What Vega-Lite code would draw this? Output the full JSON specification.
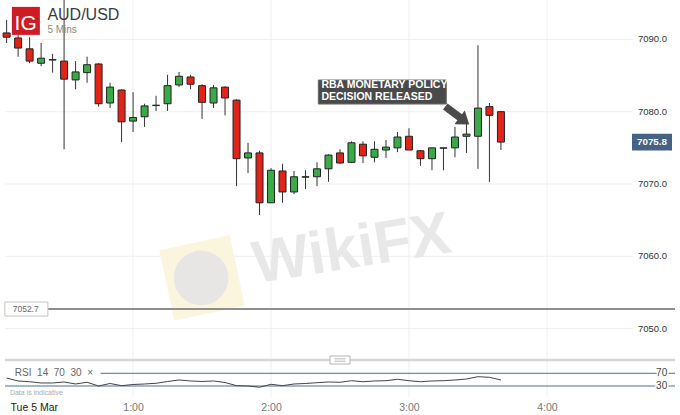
{
  "$schema": "https://vega.github.io/schema/vega-lite/v6.json",
  "width": 680,
  "height": 415,
  "padding": 0,
  "autosize": {"type": "none"},
  "background": "white",
  "config": {
    "view": {"stroke": null},
    "text": {"font": "Liberation Sans"},
    "axis": {"labelFont": "Liberation Sans"}
  },
  "datasets": {
    "candles": [
      {"t": 5, "o": 7090.9, "h": 7092.7, "l": 7089.5, "c": 7090.3},
      {"t": 10, "o": 7090.2, "h": 7091.0, "l": 7087.6, "c": 7088.8},
      {"t": 15, "o": 7088.7, "h": 7090.3, "l": 7086.7, "c": 7087.0},
      {"t": 20, "o": 7086.7, "h": 7089.5, "l": 7086.3, "c": 7087.4},
      {"t": 25, "o": 7087.15, "h": 7088.0, "l": 7085.4, "c": 7087.2},
      {"t": 30, "o": 7087.0, "h": 7096.0, "l": 7074.8, "c": 7084.5},
      {"t": 35, "o": 7084.4, "h": 7087.0, "l": 7083.1, "c": 7085.5},
      {"t": 40, "o": 7085.4, "h": 7087.6, "l": 7084.0, "c": 7086.5},
      {"t": 45, "o": 7086.6, "h": 7086.7, "l": 7080.7, "c": 7081.1},
      {"t": 50, "o": 7081.2, "h": 7084.0, "l": 7080.5, "c": 7083.4},
      {"t": 55, "o": 7083.0, "h": 7083.1, "l": 7075.8, "c": 7078.6},
      {"t": 60, "o": 7078.7, "h": 7082.7, "l": 7077.2, "c": 7079.2},
      {"t": 65, "o": 7079.3, "h": 7081.1, "l": 7077.9, "c": 7080.8},
      {"t": 70, "o": 7080.85, "h": 7082.2, "l": 7080.1, "c": 7080.9},
      {"t": 75, "o": 7081.1, "h": 7085.1, "l": 7080.1, "c": 7083.6},
      {"t": 80, "o": 7083.7, "h": 7085.5, "l": 7083.4, "c": 7084.9},
      {"t": 85, "o": 7084.8, "h": 7085.1, "l": 7083.1, "c": 7083.8},
      {"t": 90, "o": 7083.6, "h": 7083.8, "l": 7079.0, "c": 7081.3},
      {"t": 95, "o": 7081.2, "h": 7083.7, "l": 7080.5, "c": 7083.3},
      {"t": 100, "o": 7083.4, "h": 7083.5, "l": 7079.5, "c": 7081.9},
      {"t": 105, "o": 7081.6, "h": 7081.7, "l": 7069.7, "c": 7073.5},
      {"t": 110, "o": 7073.6, "h": 7075.7, "l": 7071.5, "c": 7074.3},
      {"t": 115, "o": 7074.3, "h": 7074.6, "l": 7065.7, "c": 7067.4},
      {"t": 120, "o": 7067.4, "h": 7072.2, "l": 7067.4, "c": 7071.9},
      {"t": 125, "o": 7071.8, "h": 7072.8, "l": 7067.4, "c": 7068.9},
      {"t": 130, "o": 7068.9, "h": 7071.8, "l": 7068.6, "c": 7071.0},
      {"t": 135, "o": 7070.95, "h": 7071.9, "l": 7069.3, "c": 7071.0},
      {"t": 140, "o": 7071.0, "h": 7073.0, "l": 7069.7, "c": 7072.1},
      {"t": 145, "o": 7072.1, "h": 7074.1, "l": 7070.3, "c": 7074.0},
      {"t": 150, "o": 7074.3, "h": 7074.8, "l": 7072.8, "c": 7072.9},
      {"t": 155, "o": 7073.0, "h": 7075.9, "l": 7072.9, "c": 7075.7},
      {"t": 160, "o": 7075.5, "h": 7075.9, "l": 7072.9, "c": 7073.9},
      {"t": 165, "o": 7073.7, "h": 7075.9, "l": 7073.0, "c": 7074.8},
      {"t": 170, "o": 7074.7, "h": 7076.1, "l": 7073.6, "c": 7075.1},
      {"t": 175, "o": 7075.0, "h": 7077.2, "l": 7074.4, "c": 7076.5},
      {"t": 180, "o": 7076.6, "h": 7077.7, "l": 7074.7, "c": 7074.7},
      {"t": 185, "o": 7074.6, "h": 7074.7, "l": 7072.5, "c": 7073.5},
      {"t": 190, "o": 7073.5, "h": 7075.0, "l": 7071.9, "c": 7075.0},
      {"t": 195, "o": 7074.95, "h": 7075.0, "l": 7071.9, "c": 7075.0},
      {"t": 200, "o": 7075.0, "h": 7077.9, "l": 7073.7, "c": 7076.5},
      {"t": 205, "o": 7076.6, "h": 7078.3, "l": 7074.3, "c": 7076.9},
      {"t": 210, "o": 7076.6, "h": 7089.2, "l": 7072.1, "c": 7080.5},
      {"t": 215, "o": 7080.7, "h": 7081.2, "l": 7070.3, "c": 7079.5},
      {"t": 220, "o": 7080.0, "h": 7080.1, "l": 7074.7, "c": 7075.8}
    ],
    "rsi": [
      {"t": 5, "rsi": 55}, {"t": 10, "rsi": 45.8}, {"t": 15, "rsi": 43.5},
      {"t": 20, "rsi": 39.5}, {"t": 25, "rsi": 39.5}, {"t": 30, "rsi": 42.6},
      {"t": 35, "rsi": 36.3}, {"t": 40, "rsi": 41.7}, {"t": 45, "rsi": 30},
      {"t": 50, "rsi": 37.9}, {"t": 55, "rsi": 31}, {"t": 60, "rsi": 34.7},
      {"t": 65, "rsi": 36.3}, {"t": 70, "rsi": 38.5}, {"t": 75, "rsi": 44.2},
      {"t": 80, "rsi": 48.9}, {"t": 85, "rsi": 45.8}, {"t": 90, "rsi": 44.2},
      {"t": 95, "rsi": 45.8}, {"t": 100, "rsi": 41}, {"t": 105, "rsi": 31},
      {"t": 110, "rsi": 30}, {"t": 115, "rsi": 25.9}, {"t": 120, "rsi": 35.4},
      {"t": 125, "rsi": 31}, {"t": 130, "rsi": 36.3}, {"t": 135, "rsi": 37.9},
      {"t": 140, "rsi": 40.4}, {"t": 145, "rsi": 42.6}, {"t": 150, "rsi": 41.7},
      {"t": 155, "rsi": 46.7}, {"t": 160, "rsi": 43.5}, {"t": 165, "rsi": 45.8},
      {"t": 170, "rsi": 46.7}, {"t": 175, "rsi": 51.1}, {"t": 180, "rsi": 46.7},
      {"t": 185, "rsi": 43.5}, {"t": 190, "rsi": 45.8}, {"t": 195, "rsi": 46.7},
      {"t": 200, "rsi": 48.9}, {"t": 205, "rsi": 52}, {"t": 210, "rsi": 59.3},
      {"t": 215, "rsi": 57.4}, {"t": 220, "rsi": 48.9}
    ],
    "hours": [{"t": 60}, {"t": 120}, {"t": 180}, {"t": 240}],
    "levels": [
      {"t": 4.3, "t2": 277.5, "tl": 279.6, "v": 7050},
      {"t": 4.3, "t2": 277.5, "tl": 279.6, "v": 7060},
      {"t": 4.3, "t2": 277.5, "tl": 279.6, "v": 7070},
      {"t": 4.3, "t2": 277.5, "tl": 279.6, "v": 7080},
      {"t": 4.3, "t2": 277.5, "tl": 279.6, "v": 7090}
    ]
  },
  "encoding": {
    "x": {
      "field": "t",
      "type": "quantitative",
      "scale": {"domain": [4.3, 295.7], "nice": false, "zero": false},
      "axis": {
        "orient": "bottom",
        "offset": -15,
        "values": [6.5, 60, 120, 180, 240],
        "labelExpr": "datum.value < 30 ? 'Tue 5 Mar' : floor(datum.value / 60) + ':00'",
        "labelAlign": {"condition": {"test": "datum.value < 30", "value": "left"}, "value": "center"},
        "labelColor": {"condition": {"test": "datum.value < 30", "value": "#222222"}, "value": "#777777"},
        "labelFontSize": 10.5,
        "labelPadding": 2,
        "labelFlush": false,
        "labelOverlap": false,
        "grid": false,
        "domain": false,
        "ticks": false,
        "title": null
      }
    }
  },
  "layer": [
    {
      "layer": [
        {
          "data": {"name": "hours"},
          "mark": {"type": "rule", "color": "#eeeeee", "strokeWidth": 1},
          "encoding": {
            "y": {"datum": 7045.4, "scale": {"domain": [7046.07, 7095.45], "range": [357, 0], "nice": false, "zero": false}, "axis": null},
            "y2": {"datum": 7095.45}
          }
        },
        {
          "data": {"name": "levels"},
          "mark": {"type": "rule", "color": "#efefef", "strokeWidth": 1},
          "encoding": {
            "x2": {"field": "t2"},
            "y": {"field": "v", "type": "quantitative", "scale": {"domain": [7046.07, 7095.45], "range": [357, 0], "nice": false, "zero": false}, "axis": null}
          }
        },
        {
          "data": {"name": "levels"},
          "mark": {"type": "text", "fontSize": 9.5, "align": "left", "baseline": "middle", "fill": "#333333"},
          "encoding": {
            "x": {"field": "tl", "type": "quantitative"},
            "y": {"field": "v", "type": "quantitative", "scale": {"domain": [7046.07, 7095.45], "range": [357, 0], "nice": false, "zero": false}, "axis": null},
            "text": {"field": "v", "type": "quantitative", "format": ".1f"}
          }
        },
        {
          "data": {"values": [{"t": 90.0, "v": 7057.0}]},
          "mark": {"type": "point", "shape": "square", "size": 5200, "angle": 348, "filled": true, "fill": "#fcf5de", "stroke": null, "opacity": 1},
          "encoding": {
            "y": {"field": "v", "type": "quantitative", "scale": {"domain": [7046.07, 7095.45], "range": [357, 0], "nice": false, "zero": false}, "axis": null}
          }
        },
        {
          "data": {"values": [{"t": 89.6, "v": 7057.0}]},
          "mark": {"type": "point", "shape": "circle", "size": 3000, "filled": true, "fill": "#e4e4e4", "stroke": null, "opacity": 0.9},
          "encoding": {
            "y": {"field": "v", "type": "quantitative", "scale": {"domain": [7046.07, 7095.45], "range": [357, 0], "nice": false, "zero": false}, "axis": null}
          }
        },
        {
          "data": {"values": [{"t": 155.1, "v": 7060.9, "s": "WikiFX"}]},
          "mark": {"type": "text", "fontSize": 60, "fontWeight": "bold", "angle": 351, "align": "center", "baseline": "middle", "fill": "#e6e6e6", "opacity": 0.9},
          "encoding": {
            "y": {"field": "v", "type": "quantitative", "scale": {"domain": [7046.07, 7095.45], "range": [357, 0], "nice": false, "zero": false}, "axis": null},
            "text": {"field": "s"}
          }
        },
        {
          "data": {"values": [{"t": 22.73, "t2": 295.7, "v": 7052.7}]},
          "mark": {"type": "rule", "color": "#8f8f8f", "strokeWidth": 2},
          "encoding": {
            "x2": {"field": "t2"},
            "y": {"field": "v", "type": "quantitative", "scale": {"domain": [7046.07, 7095.45], "range": [357, 0], "nice": false, "zero": false}, "axis": null}
          }
        },
        {
          "data": {"values": [{"t": 13.6, "v": 7052.7}]},
          "mark": {"type": "point", "shape": "M-1,-0.3256H1V0.3256H-1Z", "size": 1849, "filled": true, "fill": "#ffffff", "stroke": "#c4c4c4", "strokeWidth": 1, "opacity": 1},
          "encoding": {
            "y": {"field": "v", "type": "quantitative", "scale": {"domain": [7046.07, 7095.45], "range": [357, 0], "nice": false, "zero": false}, "axis": null}
          }
        },
        {
          "data": {"values": [{"t": 13.3, "v": 7052.7, "s": "7052.7"}]},
          "mark": {"type": "text", "fontSize": 8.5, "align": "center", "baseline": "middle", "fill": "#666666"},
          "encoding": {
            "y": {"field": "v", "type": "quantitative", "scale": {"domain": [7046.07, 7095.45], "range": [357, 0], "nice": false, "zero": false}, "axis": null},
            "text": {"field": "s"}
          }
        },
        {
          "data": {"name": "candles"},
          "mark": {"type": "rule", "color": "#333333", "strokeWidth": 1},
          "encoding": {
            "y": {"field": "l", "type": "quantitative", "scale": {"domain": [7046.07, 7095.45], "range": [357, 0], "nice": false, "zero": false}, "axis": null},
            "y2": {"field": "h"}
          }
        },
        {
          "data": {"name": "candles"},
          "mark": {"type": "bar", "width": 7, "stroke": "#222222", "strokeWidth": 1},
          "encoding": {
            "y": {"field": "o", "type": "quantitative", "scale": {"domain": [7046.07, 7095.45], "range": [357, 0], "nice": false, "zero": false}, "axis": null},
            "y2": {"field": "c"},
            "color": {"condition": {"test": "datum.c >= datum.o", "value": "#3aaa46"}, "value": "#e2231a"}
          }
        },
        {
          "data": {"values": [{"t": 168.4, "v": 7082.72}]},
          "mark": {"type": "point", "shape": "M-1,-0.1875H1V0.1875H-1Z", "size": 16384, "filled": true, "fill": "#4a4a4a", "stroke": "#6a6a6a", "strokeWidth": 1, "opacity": 1},
          "encoding": {
            "y": {"field": "v", "type": "quantitative", "scale": {"domain": [7046.07, 7095.45], "range": [357, 0], "nice": false, "zero": false}, "axis": null}
          }
        },
        {
          "data": {"values": [
            {"t": 141.9, "v": 7083.69, "s": "RBA MONETARY POLICY"},
            {"t": 141.9, "v": 7082.1, "s": "DECISION RELEASED"}
          ]},
          "mark": {"type": "text", "fontSize": 10.5, "fontWeight": "bold", "align": "left", "baseline": "middle", "fill": "#ffffff"},
          "encoding": {
            "y": {"field": "v", "type": "quantitative", "scale": {"domain": [7046.07, 7095.45], "range": [357, 0], "nice": false, "zero": false}, "axis": null},
            "text": {"field": "s"}
          }
        },
        {
          "data": {"values": [{"t": 201.0, "v": 7079.47}]},
          "mark": {"type": "point", "shape": "M-1,-0.25L0.2,-0.25L0.2,-0.57L1,0L0.2,0.57L0.2,0.25L-1,0.25Z", "size": 900, "angle": 37, "filled": true, "fill": "#4a4a4a", "stroke": null, "opacity": 1},
          "encoding": {
            "y": {"field": "v", "type": "quantitative", "scale": {"domain": [7046.07, 7095.45], "range": [357, 0], "nice": false, "zero": false}, "axis": null}
          }
        },
        {
          "data": {"values": [{"t": 285.7, "v": 7075.8}]},
          "mark": {"type": "point", "shape": "M-1,-0.4175H1V0.4175H-1Z", "size": 1600, "filled": true, "fill": "#456184", "stroke": null, "opacity": 1},
          "encoding": {
            "y": {"field": "v", "type": "quantitative", "scale": {"domain": [7046.07, 7095.45], "range": [357, 0], "nice": false, "zero": false}, "axis": null}
          }
        },
        {
          "data": {"values": [{"t": 285.7, "v": 7075.8, "s": "7075.8"}]},
          "mark": {"type": "text", "fontSize": 9.8, "fontWeight": "bold", "align": "center", "baseline": "middle", "fill": "#ffffff"},
          "encoding": {
            "y": {"field": "v", "type": "quantitative", "scale": {"domain": [7046.07, 7095.45], "range": [357, 0], "nice": false, "zero": false}, "axis": null},
            "text": {"field": "s"}
          }
        },
        {
          "data": {"values": [{"t": 13.38, "v": 7092.56}]},
          "mark": {"type": "point", "shape": "square", "size": 784, "filled": true, "fill": "#cf1b23", "stroke": null, "opacity": 1},
          "encoding": {
            "y": {"field": "v", "type": "quantitative", "scale": {"domain": [7046.07, 7095.45], "range": [357, 0], "nice": false, "zero": false}, "axis": null}
          }
        },
        {
          "data": {"values": [{"t": 13.3, "v": 7091.3, "s": "IG"}]},
          "mark": {"type": "text", "fontSize": 21, "align": "center", "baseline": "alphabetic", "fill": "#ffffff"},
          "encoding": {
            "y": {"field": "v", "type": "quantitative", "scale": {"domain": [7046.07, 7095.45], "range": [357, 0], "nice": false, "zero": false}, "axis": null},
            "text": {"field": "s"}
          }
        },
        {
          "data": {"values": [{"t": 22.73, "v": 7092.68, "s": "AUD/USD"}]},
          "mark": {"type": "text", "fontSize": 16, "align": "left", "baseline": "alphabetic", "fill": "#3a3a3a"},
          "encoding": {
            "y": {"field": "v", "type": "quantitative", "scale": {"domain": [7046.07, 7095.45], "range": [357, 0], "nice": false, "zero": false}, "axis": null},
            "text": {"field": "s"}
          }
        },
        {
          "data": {"values": [{"t": 22.73, "v": 7090.84, "s": "5 Mins"}]},
          "mark": {"type": "text", "fontSize": 10, "align": "left", "baseline": "alphabetic", "fill": "#888888"},
          "encoding": {
            "y": {"field": "v", "type": "quantitative", "scale": {"domain": [7046.07, 7095.45], "range": [357, 0], "nice": false, "zero": false}, "axis": null},
            "text": {"field": "s"}
          }
        }
      ]
    },
    {
      "layer": [
        {
          "data": {"name": "hours"},
          "mark": {"type": "rule", "color": "#eeeeee", "strokeWidth": 1},
          "encoding": {
            "y": {"datum": -5, "scale": {"domain": [0, 100], "range": [395.5, 363.8], "nice": false, "zero": false}, "axis": null},
            "y2": {"datum": 112}
          }
        },
        {
          "data": {"values": [{"t": 4.3, "t2": 295.7, "v": 111.9}]},
          "mark": {"type": "rule", "color": "#d6d6d6", "strokeWidth": 2.5},
          "encoding": {
            "x2": {"field": "t2"},
            "y": {"field": "v", "type": "quantitative", "scale": {"domain": [0, 100], "range": [395.5, 363.8], "nice": false, "zero": false}, "axis": null}
          }
        },
        {
          "data": {"values": [{"t": 150.0, "v": 111.9}]},
          "mark": {"type": "point", "shape": "M-1,-0.4H1V0.4H-1Z", "size": 400, "filled": true, "fill": "#ffffff", "stroke": "#b5b5b5", "strokeWidth": 1, "opacity": 1},
          "encoding": {
            "y": {"field": "v", "type": "quantitative", "scale": {"domain": [0, 100], "range": [395.5, 363.8], "nice": false, "zero": false}, "axis": null}
          }
        },
        {
          "data": {"values": [{"t": 150.0, "v": 111.9}]},
          "mark": {"type": "point", "shape": "M-0.55,-0.12H0.55M-0.55,0.12H0.55", "size": 400, "filled": false, "stroke": "#b5b5b5", "strokeWidth": 1, "opacity": 1},
          "encoding": {
            "y": {"field": "v", "type": "quantitative", "scale": {"domain": [0, 100], "range": [395.5, 363.8], "nice": false, "zero": false}, "axis": null}
          }
        },
        {
          "data": {"values": [
            {"t": 45.87, "t2": 295.7, "v": 70},
            {"t": 4.3, "t2": 295.7, "v": 30}
          ]},
          "mark": {"type": "rule", "color": "#44739c", "strokeWidth": 1},
          "encoding": {
            "x2": {"field": "t2"},
            "y": {"field": "v", "type": "quantitative", "scale": {"domain": [0, 100], "range": [395.5, 363.8], "nice": false, "zero": false}, "axis": null}
          }
        },
        {
          "data": {"name": "rsi"},
          "mark": {"type": "line", "color": "#444444", "strokeWidth": 1},
          "encoding": {
            "y": {"field": "rsi", "type": "quantitative", "scale": {"domain": [0, 100], "range": [395.5, 363.8], "nice": false, "zero": false}, "axis": null}
          }
        },
        {
          "data": {"values": [
            {"t": 289.9, "v": 70, "s": "70"},
            {"t": 289.9, "v": 30, "s": "30"}
          ]},
          "mark": {"type": "text", "fontSize": 10, "align": "center", "baseline": "middle", "fill": "#ffffff", "stroke": "#ffffff", "strokeWidth": 3},
          "encoding": {
            "y": {"field": "v", "type": "quantitative", "scale": {"domain": [0, 100], "range": [395.5, 363.8], "nice": false, "zero": false}, "axis": null},
            "text": {"field": "s"}
          }
        },
        {
          "data": {"values": [
            {"t": 289.9, "v": 70, "s": "70"},
            {"t": 289.9, "v": 30, "s": "30"}
          ]},
          "mark": {"type": "text", "fontSize": 10, "align": "center", "baseline": "middle", "fill": "#444444"},
          "encoding": {
            "y": {"field": "v", "type": "quantitative", "scale": {"domain": [0, 100], "range": [395.5, 363.8], "nice": false, "zero": false}, "axis": null},
            "text": {"field": "s"}
          }
        },
        {
          "data": {"values": [{"t": 8.59, "v": 70, "s": "RSI\u00a0\u00a014\u00a0\u00a070\u00a0\u00a030\u00a0\u00a0×"}]},
          "mark": {"type": "text", "fontSize": 10, "align": "left", "baseline": "middle", "fill": "#666666"},
          "encoding": {
            "y": {"field": "v", "type": "quantitative", "scale": {"domain": [0, 100], "range": [395.5, 363.8], "nice": false, "zero": false}, "axis": null},
            "text": {"field": "s"}
          }
        },
        {
          "data": {"values": [{"t": 6.44, "v": 8, "s": "Data is indicative"}]},
          "mark": {"type": "text", "fontSize": 7, "align": "left", "baseline": "middle", "fill": "#aaaaaa"},
          "encoding": {
            "y": {"field": "v", "type": "quantitative", "scale": {"domain": [0, 100], "range": [395.5, 363.8], "nice": false, "zero": false}, "axis": null},
            "text": {"field": "s"}
          }
        }
      ]
    }
  ],
  "resolve": {"scale": {"y": "independent"}, "axis": {"y": "independent"}}
}
